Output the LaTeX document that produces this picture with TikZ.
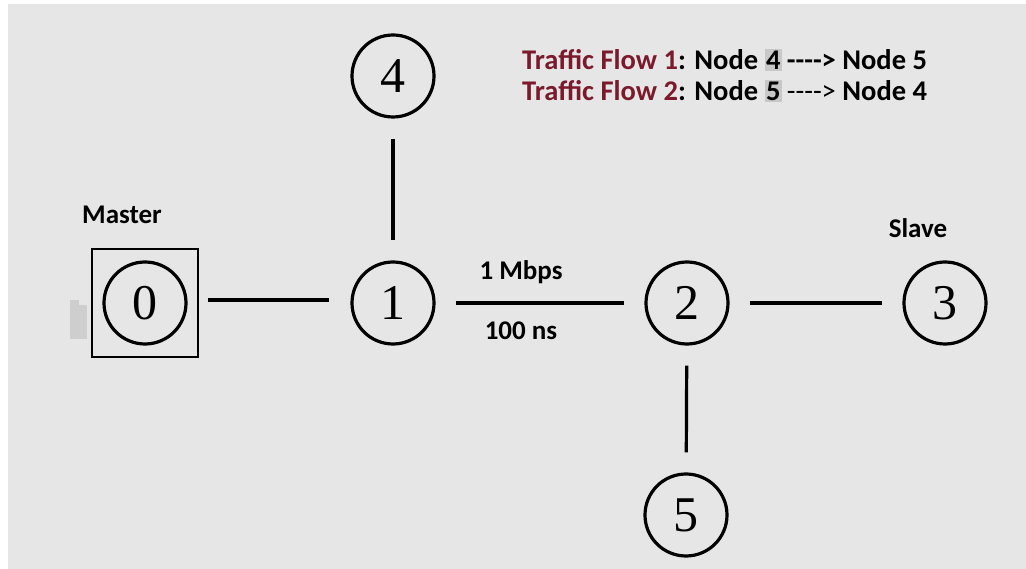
\documentclass[tikz,border=0pt]{standalone}
\usepackage{fontspec}
\usetikzlibrary{calc}
\setmainfont{Liberation Serif}
\newfontfamily\lbl{Carlito}
\definecolor{bg}{HTML}{E6E6E6}
\definecolor{flowred}{HTML}{7A1A2C}
\definecolor{hl}{HTML}{C8C8C8}
\newcommand{\hlbox}[1]{{\setlength{\fboxsep}{1.5pt}\colorbox{hl}{#1}}}
\begin{document}
\begin{tikzpicture}[x=1pt,y=-1pt,
  netnode/.style={circle,draw=black,line width=3.2pt,minimum size=82pt,inner sep=0pt,font=\fontsize{50}{50}\selectfont},
  link/.style={line width=3.2pt,shorten >=20pt,shorten <=20pt},
  lbltext/.style={font=\lbl\bfseries\fontsize{27}{32}\selectfont,inner sep=0pt},
  flowtext/.style={font=\lbl\bfseries\fontsize{28.5}{32}\selectfont,inner sep=0pt,anchor=west}]
\useasboundingbox (0,0) rectangle (1026,569);
\fill[white] (0,0) rectangle (1026,569);
\fill[bg] (8,4) rectangle (1026,569);
% nodes
\node[netnode] (n0) at (145,303) {0};
\node[netnode] (n1) at (393,303) {1};
\node[netnode] (n2) at (687,303) {2};
\node[netnode] (n3) at (945,303) {3};
\node[netnode] (n4) at (393,76) {4};
\node[netnode] (n5) at (686,515) {5};
% master box
\node[draw=black,line width=1.3pt,minimum width=106pt,minimum height=108pt,inner sep=0pt] (box) at (145,303) {};
\fill[hl!90!white] (70,305) rectangle (87,339);
\fill[hl!90!white] (70,300) rectangle (79,305);
% links
\draw[line width=3.2pt,shorten <=9pt,shorten >=21pt] ($(box.east)+(0,-3)$) -- ($(n1.west)+(0,-3)$);
\draw[link] (n1) -- (n2);
\draw[link] (n2) -- (n3);
\draw[link] (n4) -- (n1);
\draw[link] (n2) -- (n5);
% labels
\node[lbltext] (master) at (122,215) {Master};
\node[lbltext] (slave) at (918,228) {Slave};
\node[lbltext] (rate) at (521,272) {1 Mbps};
\node[lbltext] (delay) at (521,331) {100 ns};
\node[flowtext] (f1) at (522,60) {\textcolor{flowred}{Traffic Flow 1}: Node \hlbox{4}\,----> Node 5};
\node[flowtext] (f2) at (522,91) {\textcolor{flowred}{Traffic Flow 2}: Node \hlbox{5}\,{\mdseries ---->} Node 4};
\end{tikzpicture}
\end{document}
